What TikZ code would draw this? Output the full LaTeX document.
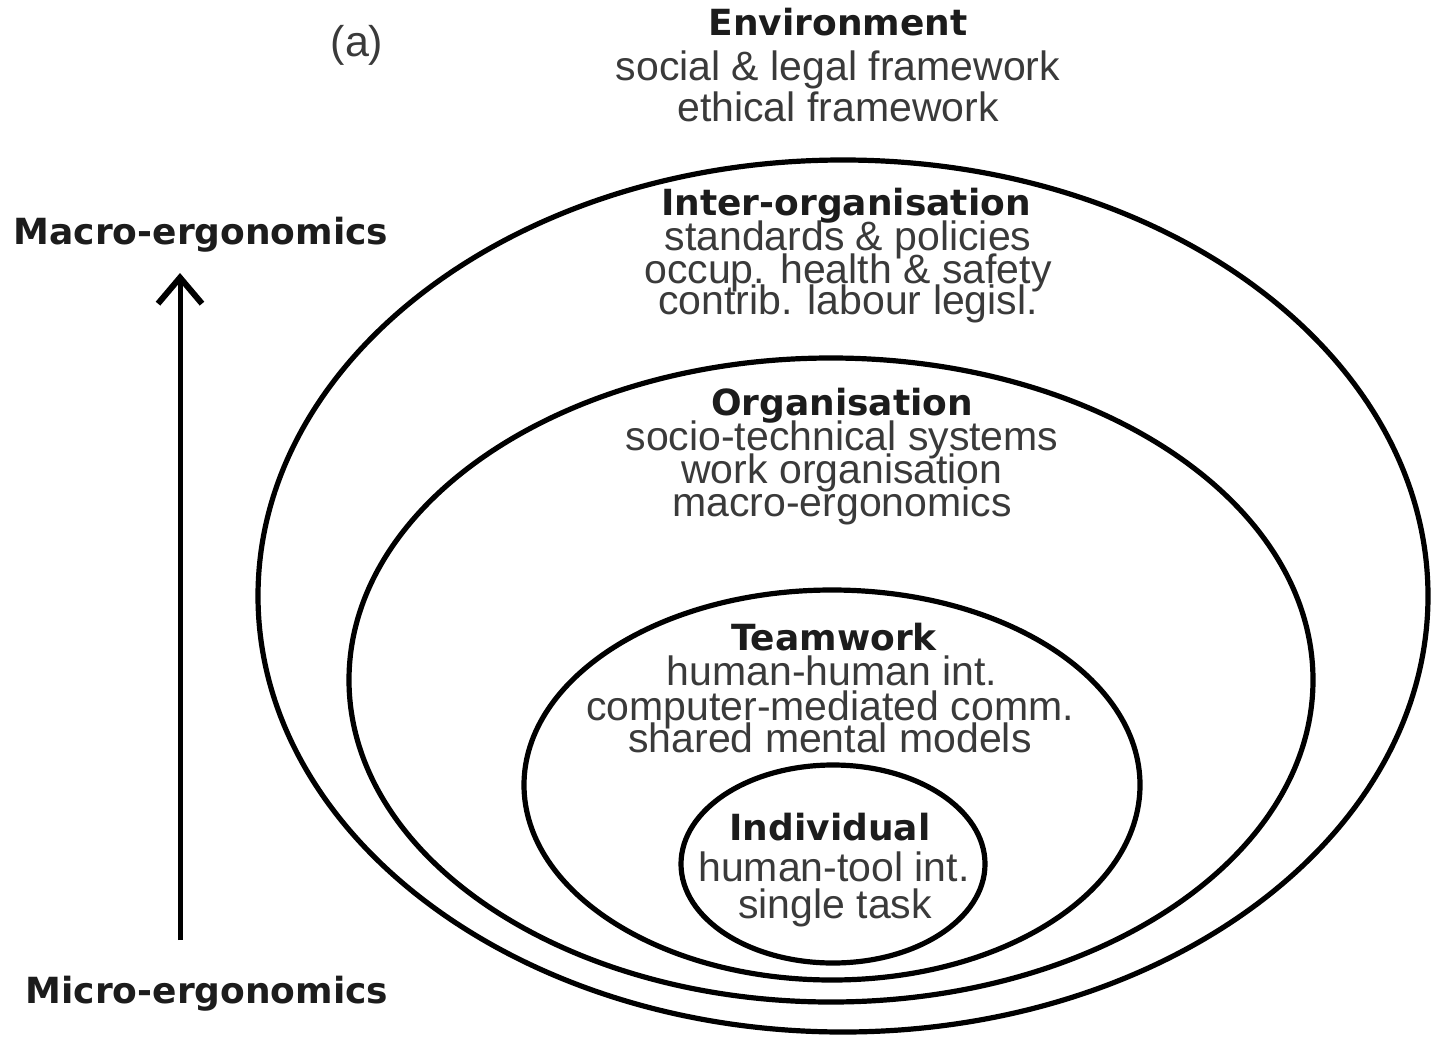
\documentclass[tikz,border=0pt]{standalone}
\usepackage{fontspec}
\setmainfont{Liberation Sans}
\newfontfamily\headfont{DejaVu Sans}
\usetikzlibrary{arrows.meta}
\definecolor{bodygray}{HTML}{3A3A3A}
\definecolor{headgray}{HTML}{1C1C1C}
\begin{document}
\begin{tikzpicture}[x=0.5pt,y=-0.5pt,
  ring/.style={draw=black,line width=2.6pt},
  hd/.style={font=\headfont\bfseries\fontsize{18}{18}\selectfont,text=headgray,inner sep=0pt,anchor=base},
  bd/.style={font=\fontsize{20.5}{20.5}\selectfont,text=bodygray,inner sep=0pt,anchor=base},
  uparrow/.style={line width=2.5pt,-{Straight Barb[length=13pt,width=22pt,line width=3pt]}}]
\useasboundingbox (0,0) rectangle (1445,1038);
\fill[white] (0,0) rectangle (1445,1038);

% ellipses
\draw[ring] (843,596) ellipse [x radius=292.5pt, y radius=218pt];
\draw[ring] (831,680) ellipse [x radius=241pt, y radius=161pt];
\draw[ring] (832,785) ellipse [x radius=154pt, y radius=97.5pt];
\draw[ring] (833,864) ellipse [x radius=76pt, y radius=49.5pt];

% label (a)
\node[bd,font=\fontsize{21.5}{21.5}\selectfont] (lbla) at (357,57) {(a)};

% Environment
\node[hd] (envh) at (838,36) {Environment};
\node[bd] (env1) at (838,81) {social \& legal framework};
\node[bd] (env2) at (838,122) {ethical framework};

% Inter-organisation
\node[hd] (inth) at (846,215) {Inter-organisation};
\node[bd] (int1) at (848,250) {standards \& policies};
\node[bd] (int2) at (848,283) {occup. health \& safety};
\node[bd] (int3) at (848,314) {contrib. labour legisl.};

% Organisation
\node[hd] (orgh) at (842,415) {Organisation};
\node[bd] (org1) at (842,450) {socio-technical systems};
\node[bd] (org2) at (842,483) {work organisation};
\node[bd] (org3) at (842,516) {macro-ergonomics};

% Teamwork
\node[hd] (teah) at (834,650) {Teamwork};
\node[bd] (tea1) at (832,685) {human-human int.};
\node[bd] (tea2) at (830,720) {computer-mediated comm.};
\node[bd] (tea3) at (830,752) {shared mental models};

% Individual
\node[hd] (indh) at (830,840) {Individual};
\node[bd] (ind1) at (834,881) {human-tool int.};
\node[bd] (ind2) at (835,918) {single task};

% axis labels and arrow
\node[hd] (macro) at (201,244) {Macro-ergonomics};
\node[hd] (micro) at (207,1003) {Micro-ergonomics};
\coordinate (abot) at (180,940);
\coordinate (atop) at (180,273);
\draw[uparrow] (abot) -- (atop);
\end{tikzpicture}
\end{document}
